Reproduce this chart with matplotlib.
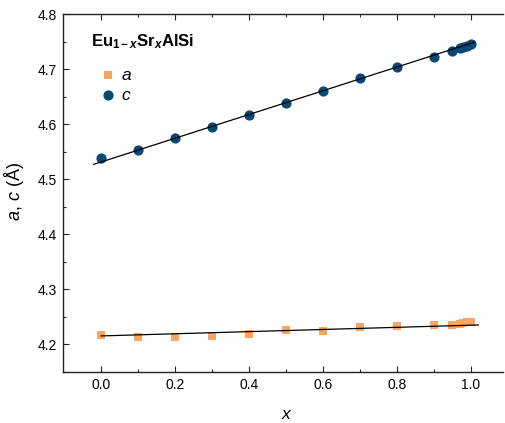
import numpy as np
import matplotlib
matplotlib.use("Agg")
import matplotlib.pyplot as plt

plt.rcParams['font.family'] = ['Liberation Sans', 'DejaVu Sans']
plt.rcParams['mathtext.fontset'] = 'custom'
plt.rcParams['mathtext.rm'] = 'Liberation Sans'
plt.rcParams['mathtext.it'] = 'Liberation Sans:italic'
plt.rcParams['mathtext.bf'] = 'Liberation Sans:bold'
plt.rcParams['mathtext.bfit'] = 'Liberation Sans:italic:bold'

x = [0.0, 0.1, 0.2, 0.3, 0.4, 0.5, 0.6, 0.7, 0.8, 0.9, 0.95, 0.97, 0.98, 0.99, 1.0]
a_vals = [4.217, 4.213, 4.213, 4.216, 4.219, 4.227, 4.224, 4.232, 4.234, 4.235,
          4.236, 4.238, 4.239, 4.240, 4.241]
c_vals = [4.538, 4.553, 4.575, 4.595, 4.616, 4.638, 4.660, 4.684, 4.703, 4.722,
          4.733, 4.738, 4.740, 4.742, 4.746]
# linear fits (intercept, slope) as drawn in the figure
a_fit = [4.2155, 0.0195]
c_fit = [4.5313, 0.2155]
a_fit_range = [0.0, 1.02]
c_fit_range = [-0.02, 1.01]
xticks = [0.0, 0.2, 0.4, 0.6, 0.8, 1.0]
yticks = [4.2, 4.3, 4.4, 4.5, 4.6, 4.7, 4.8]

orange = '#F5A664'
navy = '#084873'

fig = plt.figure(figsize=(5.05, 4.23), dpi=100)
ax = fig.add_axes([63/505, 51/423, 440/505, 358/423])

xl_a = np.array(a_fit_range)
xl_c = np.array(c_fit_range)

ax.scatter(x, a_vals, marker='s', s=34, color=orange, linewidths=0, zorder=2, label='$a$')
ax.scatter(x, c_vals, marker='o', s=54, color=navy, linewidths=0, zorder=2, label='$c$')
ax.plot(xl_a, a_fit[0] + a_fit[1] * xl_a, color='black', lw=0.9, zorder=3)
ax.plot(xl_c, c_fit[0] + c_fit[1] * xl_c, color='black', lw=0.9, zorder=3)

ax.set_xlim(-0.103, 1.087)
ax.set_ylim(4.151, 4.8)
ax.set_xticks(xticks)
ax.set_xticklabels([f'{t:.1f}' for t in xticks])
ax.set_yticks(yticks)
ax.set_yticklabels([f'{t:.1f}' for t in yticks])
ax.set_xticks(np.arange(0.1, 1.0, 0.2), minor=True)
ax.set_yticks(np.arange(4.15, 4.8, 0.1), minor=True)
ax.tick_params(which='both', direction='in', top=True, right=False, width=0.8,
               labelsize=10, color='#222222')
ax.tick_params(which='major', length=4.5, pad=4.5)
ax.tick_params(which='minor', length=2.3)
for s in ['left', 'bottom', 'top']:
    ax.spines[s].set_linewidth(1.0)
    ax.spines[s].set_color('#222222')
ax.spines['right'].set_visible(False)

ax.set_xlabel('$x$', fontsize=12.5)
ax.xaxis.set_label_coords(0.5 + 4/440, -0.097)
ax.set_ylabel('$a$, $c$ (Å)', fontsize=13)
ax.yaxis.set_label_coords(-0.085, 0.505)

fig.text(91/505, (423-46.7)/423, r'$\mathbf{Eu}_{\mathbf{1-}\boldsymbol{x}}\mathbf{Sr}_{\boldsymbol{x}}\mathbf{AlSi}$',
         fontsize=12, va='baseline', ha='left')

leg = fig.legend(loc='upper left', bbox_to_anchor=(99.4/505, (423-67.5)/423),
                 bbox_transform=fig.transFigure, frameon=False, fontsize=12.5,
                 handlelength=1.0, handletextpad=0.25, labelspacing=0.3,
                 borderpad=0, borderaxespad=0, scatterpoints=1)

fig.savefig('out.png', dpi=100)
